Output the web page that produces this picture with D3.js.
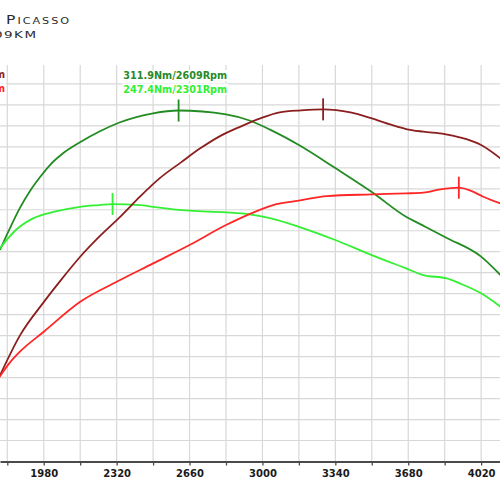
<!DOCTYPE html>
<html>
<head>
<meta charset="utf-8">
<script src="https://cdn.jsdelivr.net/npm/d3@7"></script>
<style>
  body { margin: 0; background: #fff; }
  svg { display: block; }
</style>
</head>
<body>
<div id="chart"></div>
<script>
var width  = 500;
var height = 500;

// ------------- curves -------------
// tuned torque (Nm)
var rpmTunedTorque = [1776, 1823, 1869, 1916, 1963, 2009, 2070, 2149, 2242, 2336, 2490, 2609, 2830, 2940, 3040, 3170, 3340, 3510, 3670, 3750, 3860, 4020, 4110];
var tunedTorque    = [215.7, 230.9, 244.7, 256.4, 266.0, 274.3, 282.4, 290.0, 297.6, 303.8, 310.0, 311.9, 309.3, 305.0, 298.4, 288.1, 272.2, 255.7, 238.6, 232.5, 224.0, 211.1, 198.4];

// stock torque (Nm)
var rpmStockTorque = [1770, 1850, 1930, 2030, 2150, 2240, 2301, 2430, 2490, 2660, 2830, 2940, 3040, 3170, 3340, 3510, 3670, 3750, 3860, 3920, 4020, 4110];
var stockTorque    = [215.9, 229.5, 237.5, 242.1, 245.5, 246.7, 247.4, 246.7, 245.5, 242.8, 241.7, 240.3, 237.5, 231.7, 222.6, 212.2, 203.0, 198.4, 196.1, 192.7, 185.8, 176.6];

// tuned power (KM)
var rpmTunedPower = [1770, 1870, 1980, 2060, 2150, 2240, 2340, 2430, 2520, 2620, 2710, 2800, 2900, 2990, 3080, 3180, 3283, 3410, 3510, 3600, 3670, 3750, 3850, 3920, 4020, 4110];
var tunedPower    = [50.3, 63.2, 73.1, 79.7, 86.7, 92.8, 98.9, 104.8, 110.2, 115.0, 119.2, 122.8, 125.8, 128.2, 130.0, 130.6, 130.9, 130.0, 128.2, 126.3, 125.0, 124.2, 123.5, 122.5, 120.2, 116.2];

// stock power (KM)
var rpmStockPower = [1770, 1820, 1870, 1980, 2150, 2320, 2490, 2660, 2830, 2940, 3050, 3170, 3300, 3510, 3670, 3750, 3830, 3916, 3970, 4030, 4110];
var stockPower    = [50.3, 54.8, 58.3, 64.2, 73.2, 79.2, 84.7, 90.2, 96.2, 99.5, 102.2, 103.5, 104.9, 105.4, 105.7, 105.9, 106.9, 107.4, 106.5, 104.7, 102.7];

// peaks marked on the curves
var peakRpm   = [2609, 2301, 3283, 3916];
var peakValue = [311.9, 247.4, 130.9, 107.4];
var peakUnit  = ["Nm", "Nm", "KM", "KM"];

// axis
var gridRpm    = d3.range(1810, 4100, 170);
var tickLabels = [1980, 2320, 2660, 3000, 3340, 3680, 4020];
var gridRows   = d3.range(1, 19);

var titleLines = ["Citroen Xsara Picasso", "1.6 HDi 109KM"];

// ------------- scales -------------
const plotTop    = 65;
const plotBottom = 461.5;

var x = d3.scaleLinear().domain([1776, 4108]).range([0, width]);
var yTorque = d3.scaleLinear().domain([69.8, 343.3]).range([plotBottom, plotTop]);
var yPower  = d3.scaleLinear().domain([25.3, 144.2]).range([plotBottom, plotTop]);
var yRow    = d3.scaleLinear().domain([0, 18]).range([plotBottom, 83.9]);

var svg = d3.select("#chart").append("svg")
    .attr("width", width)
    .attr("height", height);

svg.append("rect")
    .attr("width", width).attr("height", height)
    .attr("fill", "#ffffff");

// ------------- grid -------------
var groupGrid = svg.append("g");

groupGrid.selectAll("line.h")
    .data(gridRows)
    .enter()
  .append("line")
    .attr("class", "h")
    .attr("x1", 0).attr("x2", width)
    .attr("y1", function(d){ return yRow(d); })
    .attr("y2", function(d){ return yRow(d); })
    .attr("stroke", "#d8d8d8")
    .attr("stroke-width", 1.2);

groupGrid.selectAll("line.v")
    .data(gridRpm)
    .enter()
  .append("line")
    .attr("class", "v")
    .attr("x1", function(d){ return x(d); })
    .attr("x2", function(d){ return x(d); })
    .attr("y1", plotTop).attr("y2", plotBottom)
    .attr("stroke", "#d8d8d8")
    .attr("stroke-width", 1.2);

// ------------- x axis -------------
var xAxis = d3.axisBottom(x)
    .tickValues(gridRpm)
    .tickSize(4)
    .tickSizeOuter(0)
    .tickPadding(4.5)
    .tickFormat(function(d){ return tickLabels.indexOf(d) >= 0 ? d : ""; });

var gAxis = svg.append("g")
    .attr("transform", "translate(0," + plotBottom + ")")
    .call(xAxis);

gAxis.select(".domain")
    .attr("stroke", "#4a4a4a")
    .attr("stroke-width", 2);
gAxis.selectAll(".tick line")
    .attr("stroke", "#4a4a4a")
    .attr("stroke-width", 1.3);
gAxis.selectAll(".tick text")
    .attr("fill", "#1a1a1a")
    .style("font-family", "'DejaVu Sans', sans-serif")
    .style("font-weight", "bold")
    .style("font-size", "10px");

// ------------- curves -------------
var series = [
  {rpm: rpmTunedTorque, val: tunedTorque, y: yTorque, color: "#228b22"},
  {rpm: rpmStockTorque, val: stockTorque, y: yTorque, color: "#33f033"},
  {rpm: rpmTunedPower,  val: tunedPower,  y: yPower,  color: "#8b1f1f"},
  {rpm: rpmStockPower,  val: stockPower,  y: yPower,  color: "#ff2626"}
];

var groupCurves = svg.append("g");

for (var i = 0; i < series.length; i++){
  var s = series[i];
  var pts = s.rpm.map(function(r, j){ return [r, s.val[j]]; });
  var line = d3.line()
      .x(function(d){ return x(d[0]); })
      .y(function(d){ return s.y(d[1]); })
      .curve(d3.curveMonotoneX);

  groupCurves.append("path")
      .attr("d", line(pts))
      .attr("fill", "none")
      .attr("stroke", s.color)
      .attr("stroke-width", 1.8)
      .attr("stroke-linejoin", "round");

  // peak marker
  groupCurves.append("line")
      .attr("x1", x(peakRpm[i])).attr("x2", x(peakRpm[i]))
      .attr("y1", s.y(peakValue[i]) - 11)
      .attr("y2", s.y(peakValue[i]) + 11)
      .attr("stroke", s.color)
      .attr("stroke-width", 1.8);
}

// ------------- peak labels -------------
var labelPos = [
  {x: 123.3, y: 79,   anchor: "start"},
  {x: 123.3, y: 92.5, anchor: "start"},
  {x: 5,     y: 78.3, anchor: "end"},
  {x: 5,     y: 92.3, anchor: "end"}
];
var labelColor = ["#2a8a2a", "#33f033", "#8b1f1f", "#ff2626"];

var groupLabels = svg.append("g");
for (var i = 0; i < 4; i++){
  var txt = groupLabels.append("text")
      .attr("x", labelPos[i].x)
      .attr("y", labelPos[i].y)
      .attr("text-anchor", labelPos[i].anchor)
      .attr("fill", labelColor[i])
      .style("font-family", "'DejaVu Sans', sans-serif")
      .style("font-weight", "bold")
      .style("font-size", "9.7px")
      .text(peakValue[i].toFixed(1) + peakUnit[i] + "/" + peakRpm[i] + "Rpm");
  var bb = txt.node().getBBox();
  groupLabels.insert("rect", "text")
      .attr("x", bb.x - 1).attr("y", bb.y)
      .attr("width", bb.width + 2).attr("height", bb.height)
      .attr("fill", "#ffffff");
}

// ------------- title (cut off at the left edge) -------------
svg.append("text")
    .attr("transform", "translate(71,24) scale(1.3,1)")
    .attr("text-anchor", "end")
    .attr("fill", "#2a2a2a")
    .style("font-family", "'DejaVu Sans', sans-serif")
    .style("font-size", "12px")
    .style("font-variant", "small-caps")
    .style("letter-spacing", "1.5px")
    .text(titleLines[0]);

svg.append("text")
    .attr("transform", "translate(37.5,38.3) scale(1.45,1)")
    .attr("text-anchor", "end")
    .attr("fill", "#2a2a2a")
    .style("font-family", "'DejaVu Sans', sans-serif")
    .style("font-size", "9.3px")
    .style("font-variant", "small-caps")
    .style("letter-spacing", "1px")
    .text(titleLines[1]);
</script>
</body>
</html>
